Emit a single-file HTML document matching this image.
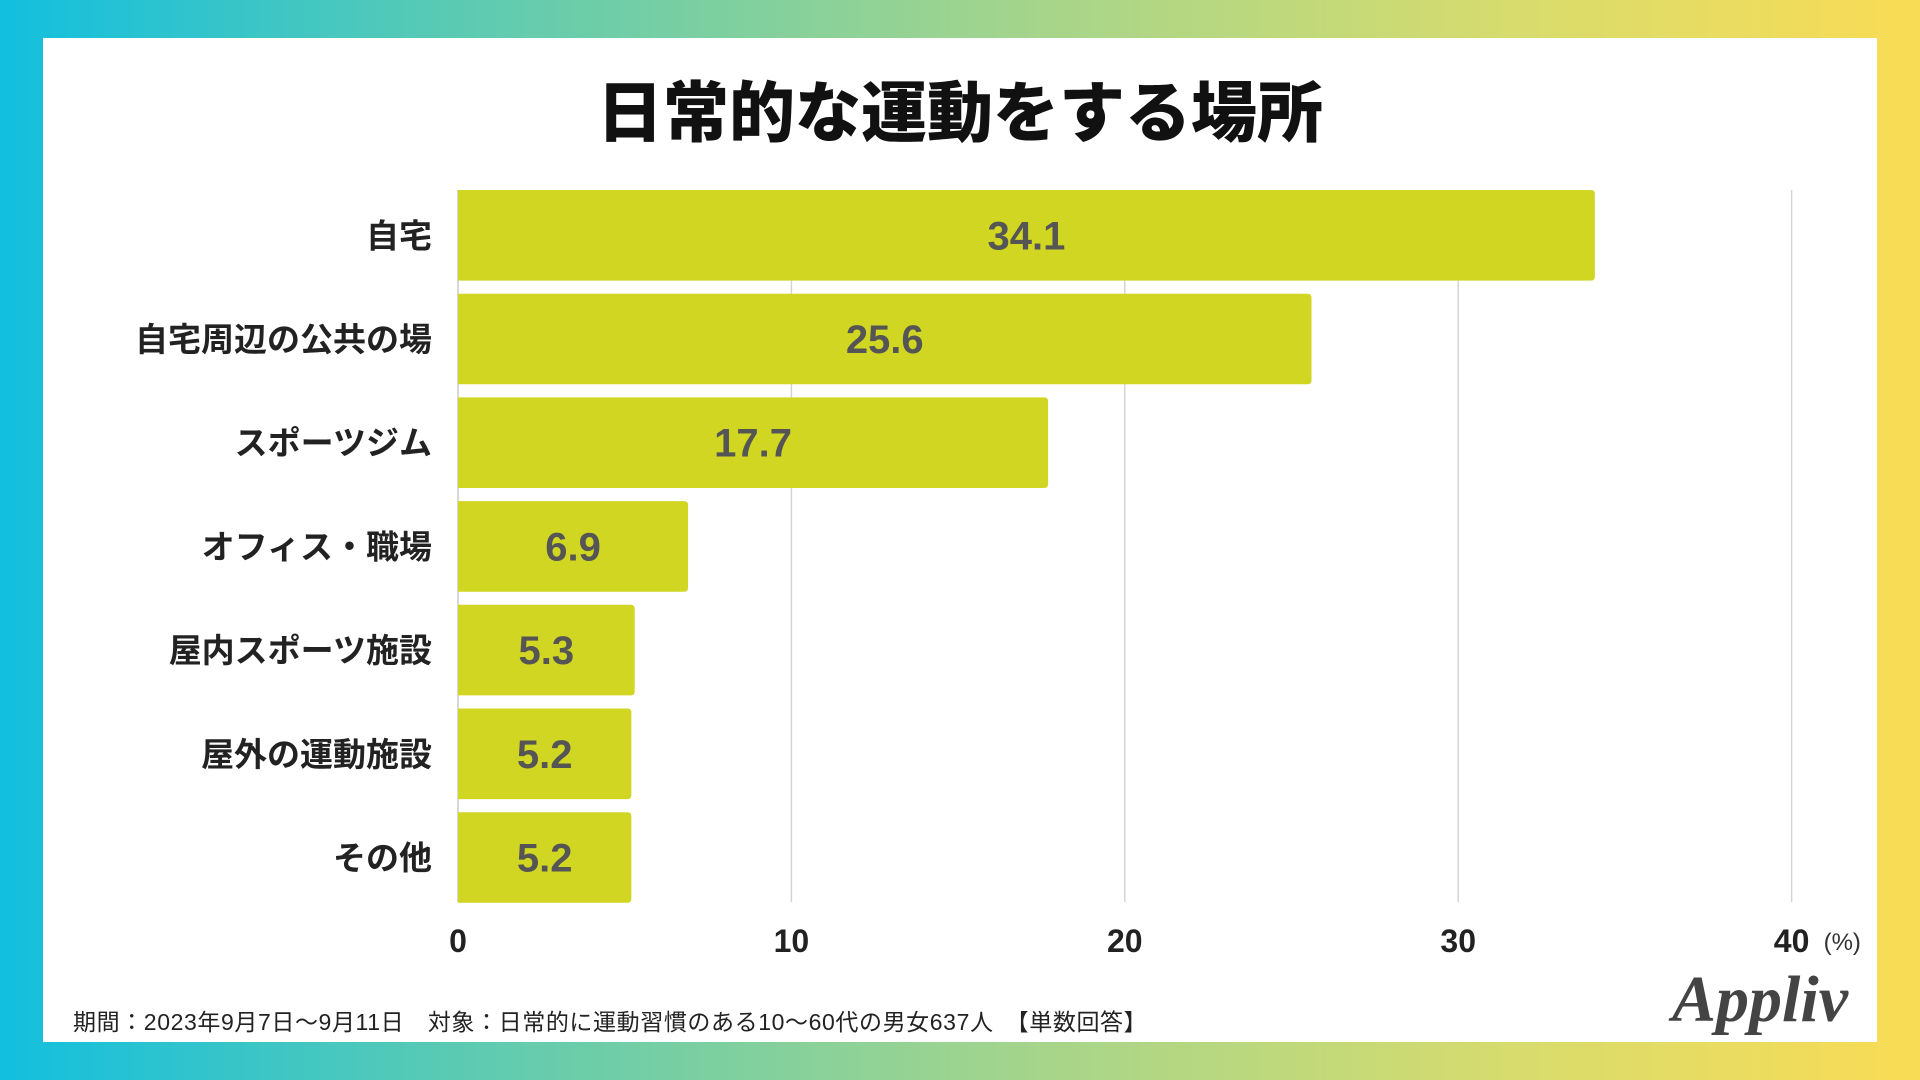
<!DOCTYPE html>
<html><head><meta charset="utf-8"><style>
html,body{margin:0;padding:0;}
body{width:1920px;height:1080px;overflow:hidden;background:linear-gradient(90deg,#12BFDF 0%,#5FCBB0 25%,#A8D58A 55%,#D9DC6C 80%,#F9DC55 100%);font-family:"Liberation Sans","Noto Sans CJK JP",sans-serif;position:relative;}
#panel{position:absolute;left:43px;top:38px;width:1834px;height:1004px;background:#fff;}
#title{position:absolute;left:0;top:60px;width:1920px;text-align:center;font-size:66px;font-weight:900;color:#111;}
#footer{position:absolute;left:73px;top:1003px;font-size:23px;letter-spacing:0.6px;color:#222;white-space:pre;}
#logo{position:absolute;left:1672px;top:962px;font-family:"Liberation Serif",serif;font-style:italic;font-weight:bold;font-size:66px;color:#444;}
</style></head><body>
<div id="panel"></div>
<div id="title">日常的な運動をする場所</div>
<svg id="chart" width="1920" height="1080" style="position:absolute;left:0;top:0"></svg>
<div id="footer">期間：2023年9月7日～9月11日　対象：日常的に運動習慣のある10～60代の男女637人　【単数回答】</div>
<div id="logo">Appliv</div>
<script>
const categories=["自宅","自宅周辺の公共の場","スポーツジム","オフィス・職場","屋内スポーツ施設","屋外の運動施設","その他"];
const values=[34.1,25.6,17.7,6.9,5.3,5.2,5.2];
const ticks=[0,10,20,30,40];
const svg=document.getElementById('chart');
const NS='http://www.w3.org/2000/svg';
const x0=458,xPer=33.34,top0=190,pitch=103.7,bh=90.6,gridBottom=902;
const X=v=>x0+v*xPer;
const Y=i=>top0+i*pitch;
function mk(t,a){const e=document.createElementNS(NS,t);for(const k in a)e.setAttribute(k,a[k]);svg.appendChild(e);return e;}
ticks.forEach(t=>{
 if(t>0){const l=mk('line',{x1:X(t),x2:X(t),y1:top0,y2:gridBottom,stroke:'#d4d4d4','stroke-width':1.5});
 
 }
 const tx=mk('text',{x:X(t),y:952,'text-anchor':'middle','font-size':32,'font-weight':'bold',fill:'#222'});
 tx.textContent=t;
 
 
});
const pu=mk('text',{x:X(40)+32,y:950,'font-size':24,fill:'#333'});pu.textContent='(%)';


const ax=mk('line',{x1:x0,x2:x0,y1:top0,y2:gridBottom,stroke:'#ccc','stroke-width':1.5});


values.forEach((v,i)=>{
 const w=X(v)-x0,y=Y(i);
 const p=mk('path',{d:`M${x0},${y}H${x0+w-4}Q${x0+w},${y} ${x0+w},${y+4}V${y+bh-4}Q${x0+w},${y+bh} ${x0+w-4},${y+bh}H${x0}Z`,fill:'#D1D622'});
 
 
 const vt=mk('text',{x:x0+w/2,y:y+bh/2+14,'text-anchor':'middle','font-size':40,'font-weight':'bold',fill:'#555'});
 vt.textContent=v.toFixed(1);
 
 
 const ct=mk('text',{x:432,y:y+bh/2+12,'text-anchor':'end','font-size':33,'font-weight':'bold',fill:'#222'});
 ct.textContent=categories[i];
 
 
});
</script>
</body></html>
